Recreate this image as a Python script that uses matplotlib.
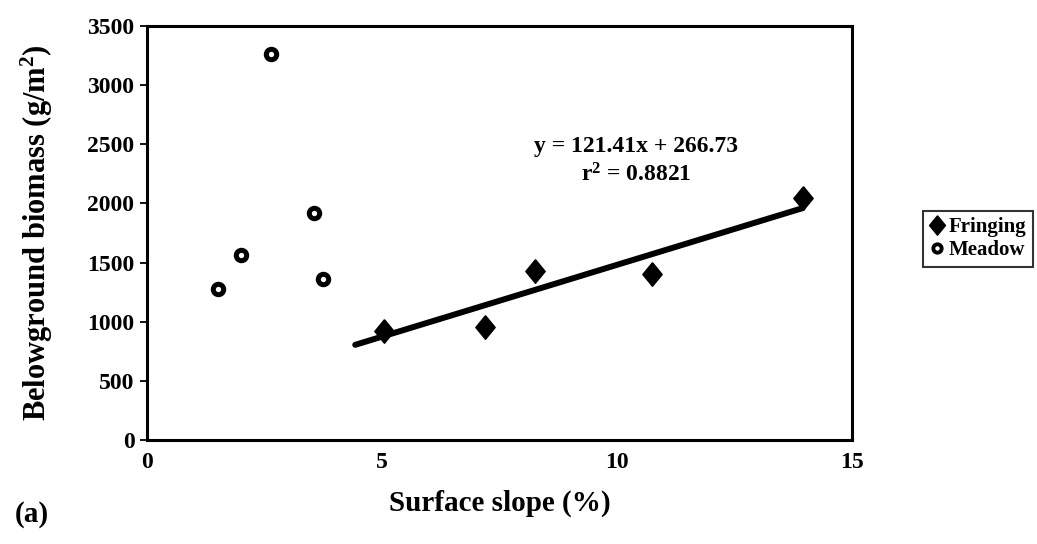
import numpy as np
import matplotlib.pyplot as plt
from matplotlib.lines import Line2D

# ---- data ----
fringing_x = [5.05, 7.2, 8.25, 10.75, 13.95]
fringing_y = [921, 958, 1428, 1403, 2043]
meadow_x = [1.5, 2.0, 2.63, 3.55, 3.75]
meadow_y = [1274, 1566, 3260, 1916, 1358]

slope, intercept = 121.41, 266.73
trend_x = [4.43, 13.95]
x_ticks = [0, 5, 10, 15]
y_ticks = [0, 500, 1000, 1500, 2000, 2500, 3000, 3500]

plt.rcParams['font.family'] = ['Liberation Serif', 'DejaVu Serif']
plt.rcParams['font.weight'] = 'bold'
plt.rcParams['mathtext.fontset'] = 'custom'
plt.rcParams['mathtext.rm'] = 'Liberation Serif:bold'
plt.rcParams['mathtext.it'] = 'Liberation Serif:bold'
plt.rcParams['mathtext.bf'] = 'Liberation Serif:bold'

# tall diamond like the original marker
diamond = [(0, 1), (0.82, 0), (0, -1), (-0.82, 0), (0, 1)]

fig = plt.figure(figsize=(10.37, 5.44), dpi=100)
ax = fig.add_axes([147 / 1037, 1 - 440 / 544, 705 / 1037, 414 / 544])

tx = np.array(trend_x)
ax.plot(tx, slope * tx + intercept, color='k', linewidth=4.3, solid_capstyle='round', zorder=2)

ax.plot(fringing_x, fringing_y, linestyle='none', marker=diamond, markersize=17,
        markerfacecolor='k', markeredgecolor='k', zorder=3)
ax.plot(meadow_x, meadow_y, linestyle='none', marker='o', markersize=7.5,
        markerfacecolor='white', markeredgecolor='k', markeredgewidth=3.6, zorder=3)

ax.set_xlim(0, 15)
ax.set_ylim(0, 3500)
ax.set_xticks(x_ticks)
ax.set_yticks(y_ticks)
ax.tick_params(axis='x', length=0, pad=9, labelsize=17)
ax.tick_params(axis='y', length=5, width=1.3, direction='out', pad=4, labelsize=17)
for lab in ax.get_xticklabels() + ax.get_yticklabels():
    lab.set_fontweight('bold')
for sp in ax.spines.values():
    sp.set_linewidth(2.2)

ax.set_xlabel('Surface slope (%)', fontsize=21, fontweight='bold')
ax.xaxis.set_label_coords(0.5, -(503 - 440) / 414)
ax.xaxis.label.set_va('center')
ax.set_ylabel('Belowground biomass (g/m$^2$)', fontsize=22, fontweight='bold')
ax.yaxis.set_label_coords(-(147 - 37) / 705, 0.5)
ax.yaxis.label.set_va('center')

ax.text(10.4, 2480, 'y = 121.41x + 266.73', ha='center', va='center',
        fontsize=17, fontweight='bold')
ax.text(10.4, 2240, 'r$^2$ = 0.8821', ha='center', va='center',
        fontsize=17, fontweight='bold')

handles = [
    Line2D([], [], linestyle='none', marker=diamond, markersize=14,
           markerfacecolor='k', markeredgecolor='k', label='Fringing'),
    Line2D([], [], linestyle='none', marker='o', markersize=6,
           markerfacecolor='white', markeredgecolor='k', markeredgewidth=2.8, label='Meadow'),
]
leg = fig.legend(handles=handles, loc='upper left', bbox_to_anchor=(923 / 1037, 1 - 211 / 544),
                 frameon=True, fancybox=False, edgecolor='k', handlelength=0.7,
                 handletextpad=0.25, borderpad=0.3, labelspacing=0.15, borderaxespad=0,
                 prop={'size': 15, 'weight': 'bold'})
leg.get_frame().set_linewidth(1.5)

fig.text(15 / 1037, 1 - 514 / 544, '(a)', fontsize=21, fontweight='bold',
         ha='left', va='center')

fig.savefig('out.png', dpi=100)
